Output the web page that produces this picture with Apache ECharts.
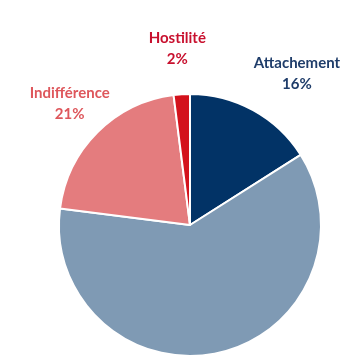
<!DOCTYPE html>
<html><head><meta charset="utf-8">
<script src="https://cdn.jsdelivr.net/npm/echarts@6/dist/echarts.min.js"></script>
<style>html,body{margin:0;padding:0;background:#fff}#c{width:356px;height:364px}</style>
</head><body><div id="c"></div>
<script>
const categories = ['Attachement', 'Autre', 'Indifférence', 'Hostilité'];
const values = [16, 61, 21, 2];
const showLabel = [true, false, true, true];
const colors = ['#023366', '#7f9ab4', '#e47c7e', '#d3121c'];
const labelColors = ['#1f3d6a', '#7f9ab4', '#de575c', '#c8102e'];
const offsets = [[35, -30], [0, 0], [-17, -23], [1, -38]];

const chart = echarts.init(document.getElementById('c'), null, {renderer: 'canvas'});
chart.setOption({
  animation: false,
  series: [{
    type: 'pie',
    center: [190, 225],
    radius: 131,
    startAngle: 90,
    clockwise: true,
    avoidLabelOverlap: false,
    itemStyle: {borderColor: '#fff', borderWidth: 2},
    labelLine: {show: false, length: 8, length2: 0},
    labelLayout: function () { return {align: 'center'}; },
    label: {
      position: 'outside',
      formatter: '{b}\n{d}%',
      fontFamily: 'Lato',
      fontWeight: 'bold',
      fontSize: 15,
      lineHeight: 21
    },
    data: categories.map((c, i) => ({
      name: c,
      value: values[i],
      itemStyle: {color: colors[i]},
      label: {show: showLabel[i], color: labelColors[i], offset: offsets[i]}
    }))
  }]
});
</script></body></html>
